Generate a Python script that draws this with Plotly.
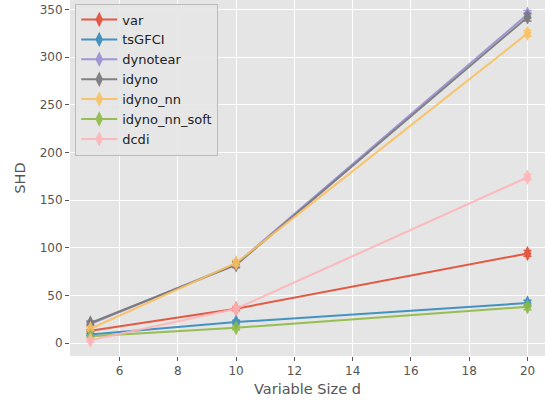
import plotly.graph_objects as go

d = [5, 10, 20]
names = ["var", "tsGFCI", "dynotear", "idyno", "idyno_nn", "idyno_nn_soft", "dcdi"]
shd = {
    "var": [13, 36, 94],
    "tsGFCI": [9, 22, 42],
    "dynotear": [20, 83, 345],
    "idyno": [21, 82, 342],
    "idyno_nn": [15, 84, 325],
    "idyno_nn_soft": [7, 16, 38],
    "dcdi": [3, 36, 174],
}
err = {
    "var": [1, 2, 3],
    "tsGFCI": [1, 2, 3],
    "dynotear": [2, 3, 4],
    "idyno": [2, 3, 4],
    "idyno_nn": [2, 3, 3],
    "idyno_nn_soft": [1, 2, 3],
    "dcdi": [2, 3, 3],
}
colors = ["#E24A33", "#348ABD", "#988ED5", "#777777", "#FBC15E", "#8EBA42", "#FFB5B8"]

fig = go.Figure()
for n, c in zip(names, colors):
    fig.add_trace(go.Scatter(
        x=d, y=shd[n], name=n, mode="lines+markers",
        line=dict(color=c, width=2),
        marker=dict(symbol="diamond-tall", size=11, color=c),
        error_y=dict(type="data", array=err[n], color=c, thickness=1.5, width=4),
        opacity=0.9,
    ))

fig.update_layout(
    width=545, height=404,
    margin=dict(l=70, r=0, t=0, b=48),
    paper_bgcolor="white", plot_bgcolor="#E5E5E5",
    font=dict(family="DejaVu Sans", color="#555555", size=12),
    showlegend=True,
    legend=dict(x=0.011, y=0.99, xanchor="left", yanchor="top",
                bgcolor="rgba(229,229,229,0.9)", bordercolor="#BBBBBB", borderwidth=1,
                font=dict(size=13, color="#222222"), tracegroupgap=0,
                itemwidth=36),
)
fig.update_xaxes(range=[4.3, 20.6], tickvals=[6, 8, 10, 12, 14, 16, 18, 20],
                 automargin=False,
                 showgrid=True, gridcolor="white", gridwidth=1, zeroline=False,
                 ticks="outside", ticklen=4, tickcolor="#555555",
                 tickfont=dict(size=12, color="#555555"),
                 title=dict(text="Variable Size d", font=dict(size=14.5, color="#555555"), standoff=6))
fig.update_yaxes(range=[-13.6, 360], tickvals=[0, 50, 100, 150, 200, 250, 300, 350],
                 automargin=False,
                 showgrid=True, gridcolor="white", gridwidth=1, zeroline=False,
                 ticks="outside", ticklen=4, tickcolor="#555555",
                 tickfont=dict(size=12, color="#555555"),
                 title=dict(text="SHD", font=dict(size=14.5, color="#555555"), standoff=10))
fig.write_html("out.html", config={"displayModeBar": False},
               post_script="document.body.style.margin='0';")
